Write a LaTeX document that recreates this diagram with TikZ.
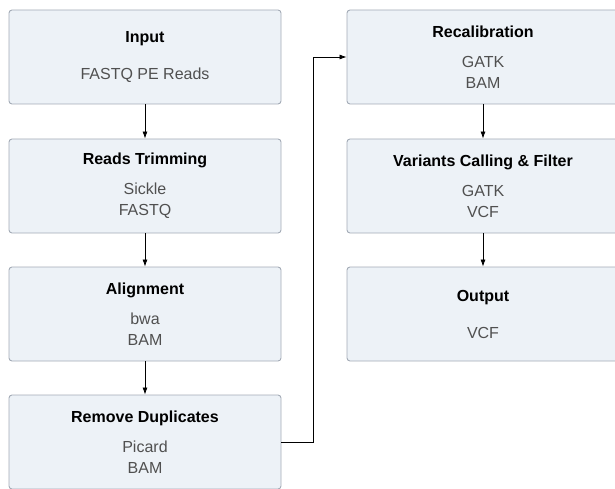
\documentclass[tikz,border=0pt]{standalone}
\usepackage{fontspec}
\setmainfont{Liberation Sans}
\usetikzlibrary{arrows.meta}
\usetikzlibrary{shapes}
\definecolor{boxFill}{HTML}{EDF2F7}
\definecolor{boxLine}{HTML}{A3ABB6}
\definecolor{subText}{HTML}{505050}
\begin{document}
\begin{tikzpicture}[x = 1pt, y = 1pt, font = \fontsize{16}{21}\selectfont]
	\tikzstyle{stageStyle}=[shape = rectangle, rounded corners = 3pt, minimum width = 272pt, minimum height = 94pt, inner sep = 0pt, draw = boxLine, line width = 0.9pt, fill = boxFill, align = center, text = subText]
	\tikzstyle{flowStyle}=[-{Latex[length = 7pt, width = 5pt]}, line width = 0.7pt, black]
	\useasboundingbox (0,0) rectangle (615,488);
	\node[stageStyle] (input) at (145,431) {\textcolor{black}{\bfseries Input}\\[16pt]FASTQ PE Reads};
	\node[stageStyle] (trim) at (145,302) {\textcolor{black}{\bfseries Reads Trimming}\\[9pt]Sickle\\FASTQ};
	\node[stageStyle] (align) at (145,174) {\textcolor{black}{\bfseries Alignment}\\[9pt]bwa\\BAM};
	\node[stageStyle] (rmdup) at (145,46) {\textcolor{black}{\bfseries Remove Duplicates}\\[9pt]Picard\\BAM};
	\node[stageStyle] (recal) at (483,431) {\textcolor{black}{\bfseries Recalibration}\\[9pt]GATK\\BAM};
	\node[stageStyle] (calling) at (483,302) {\textcolor{black}{\bfseries Variants Calling \& Filter}\\[9pt]GATK\\VCF};
	\node[stageStyle] (output) at (483,174) {\textcolor{black}{\bfseries Output}\\[16pt]VCF};
	\draw[flowStyle] (input) -- (trim);
	\draw[flowStyle] (trim) -- (align);
	\draw[flowStyle] (align) -- (rmdup);
	\draw[flowStyle] (rmdup.east) -- ++(32,0) |- (recal.west);
	\draw[flowStyle] (recal) -- (calling);
	\draw[flowStyle] (calling) -- (output);
\end{tikzpicture}
\end{document}
